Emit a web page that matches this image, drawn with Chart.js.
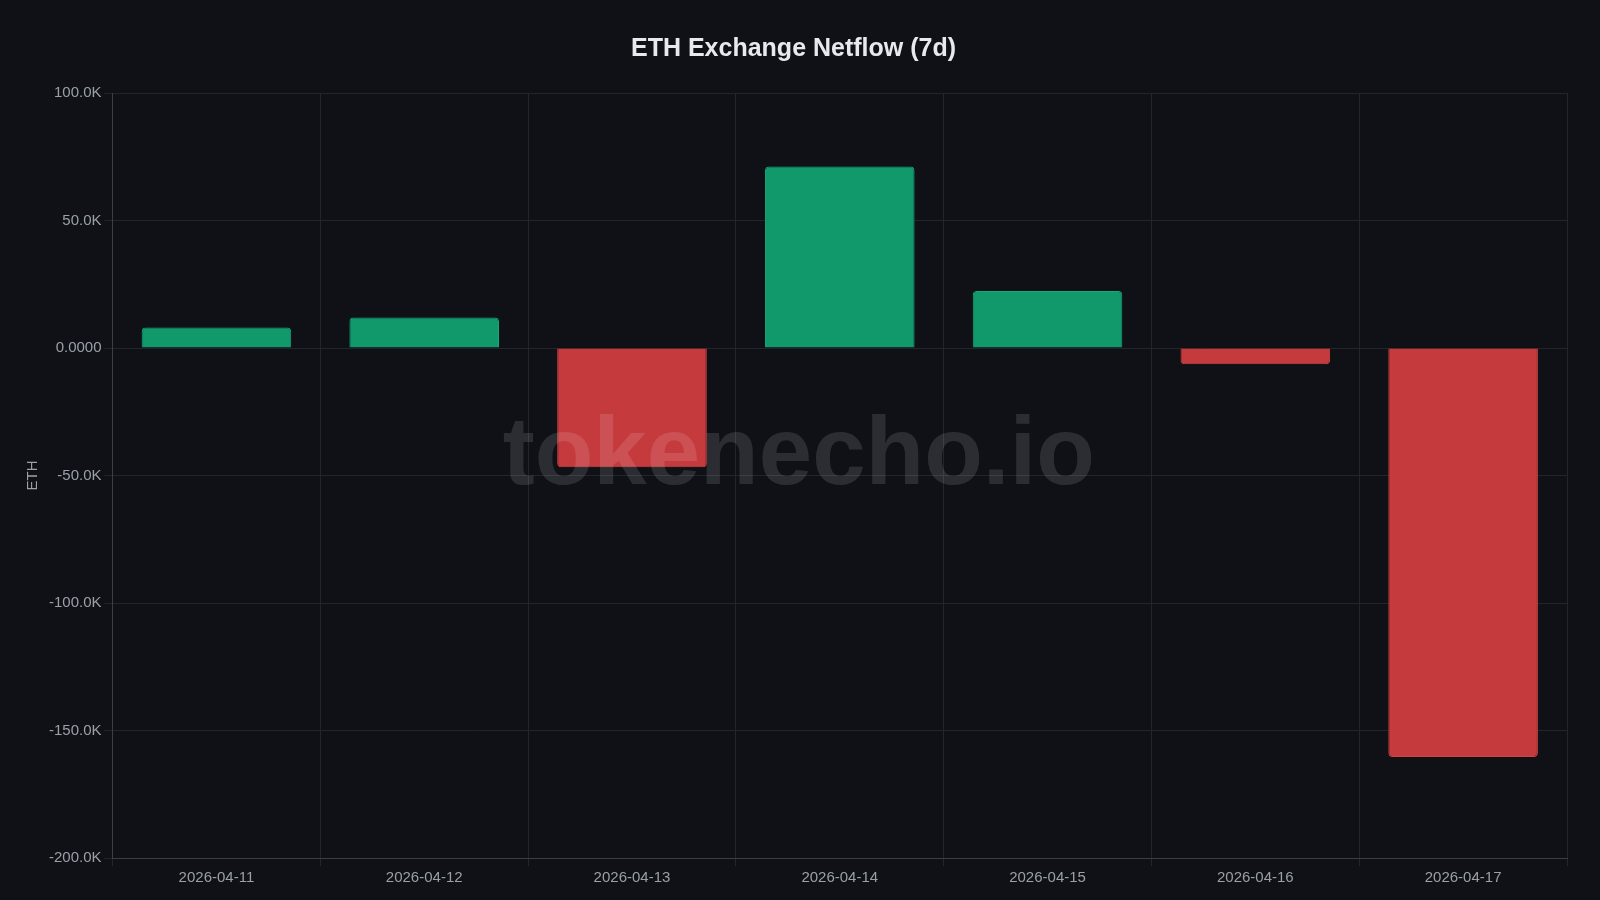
<!DOCTYPE html>
<html><head><meta charset="utf-8">
<script src="https://cdn.jsdelivr.net/npm/chart.js@4"></script>
<style>html,body{margin:0;background:#0f1116;}#wrap{width:1600px;height:900px;}</style>
</head><body><div id="wrap"><canvas id="c"></canvas></div>
<script>
const categories=["2026-04-11","2026-04-12","2026-04-13","2026-04-14","2026-04-15","2026-04-16","2026-04-17"];
const netflow=[8000,12000,-46800,71200,22400,-6400,-160400];
const yMin=-200000, yMax=100000, yStep=50000;
const green="#11996c", red="#c43a3d";
const FF="'Liberation Sans', Arial, Helvetica, sans-serif";
const watermark={id:"wm",afterDatasetsDraw(ch){const a=ch.chartArea,x=ch.ctx;x.save();x.font="bold 96px "+FF;x.fillStyle="rgba(255,255,255,0.12)";x.textAlign="center";x.textBaseline="middle";x.fillText("tokenecho.io",(a.left+a.right)/2-41,(a.top+a.bottom)/2-18);x.restore();}};
new Chart(document.getElementById("c"),{type:"bar",
data:{labels:categories,datasets:[{data:netflow,backgroundColor:netflow.map(v=>v>=0?green:red),borderColor:netflow.map(v=>v>=0?"#16a877":"#d04446"),borderWidth:1,borderRadius:4,barPercentage:0.72,categoryPercentage:1}]},
options:{responsive:true,maintainAspectRatio:false,animation:false,
layout:{padding:{left:20,right:33,top:10,bottom:10}},
plugins:{legend:{display:false},tooltip:{enabled:false},title:{display:true,text:"ETH Exchange Netflow (7d)",color:"#e6e9ee",font:{size:25,weight:"bold",family:FF},padding:{top:24,bottom:29}}},
scales:{x:{grid:{color:"#22252c",offset:true},border:{color:"#3a3e46"},ticks:{color:"#9aa0a8",font:{size:15,family:FF}}},
y:{min:yMin,max:yMax,ticks:{stepSize:yStep,color:"#9aa0a8",font:{size:15,family:FF},callback:v=>v===0?"0.0000":(v/1000).toFixed(1)+"K"},grid:{color:"#22252c"},border:{color:"#3a3e46"},title:{display:true,text:"ETH",color:"#9aa0a8",font:{size:15,family:FF}}}}},
plugins:[watermark]});
</script></body></html>
